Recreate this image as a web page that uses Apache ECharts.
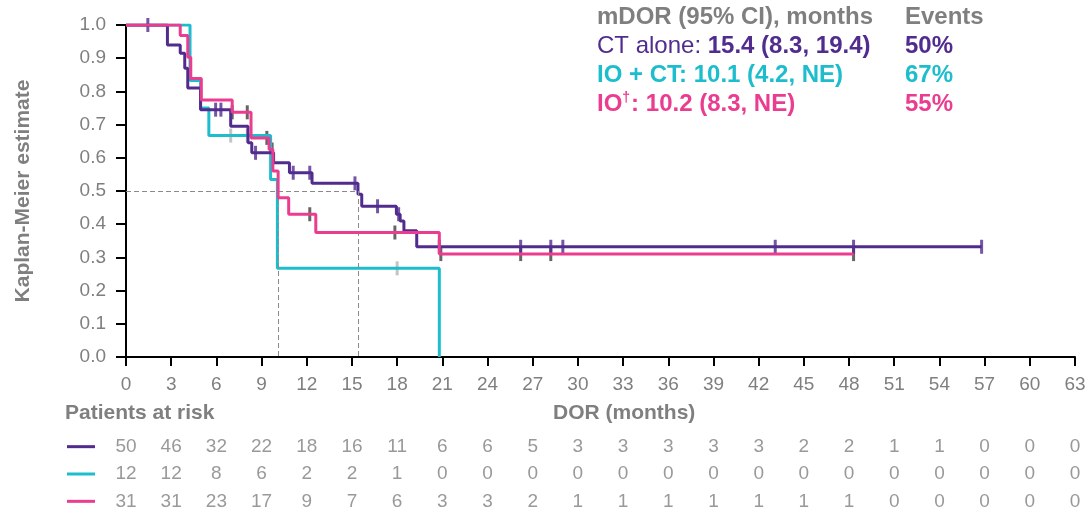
<!DOCTYPE html>
<html><head><meta charset="utf-8">
<script src="https://cdn.jsdelivr.net/npm/echarts@6/dist/echarts.min.js"></script>
<style>html,body{margin:0;padding:0;background:#fff}#c{width:1091px;height:515px}</style>
</head><body><div id="c"></div>
<script>
// ---- Kaplan-Meier step data (time in months, survival estimate) ----
const ctTimes = [0, 2.75, 3.6, 3.9, 4.1, 4.95, 6.95, 8.1, 8.35, 9.8, 10.85, 12.35, 15.4, 15.65, 17.95, 18.2, 18.45, 19.3, 56.8];
const ctSurv  = [1.0, 0.94, 0.915, 0.87, 0.81, 0.745, 0.695, 0.645, 0.615, 0.585, 0.555, 0.523, 0.49, 0.454, 0.43, 0.41, 0.38, 0.332, 0.332];
const ioctTimes = [0, 4.25, 4.95, 5.5, 9.6, 10.05, 20.8];
const ioctSurv  = [1.0, 0.833, 0.75, 0.667, 0.535, 0.267, 0.0];
const ioTimes = [0, 3.6, 4.1, 4.3, 5.0, 7.05, 8.3, 9.5, 9.75, 10.1, 10.8, 12.6, 20.8, 48.3];
const ioSurv  = [1.0, 0.968, 0.903, 0.839, 0.774, 0.737, 0.66, 0.625, 0.56, 0.48, 0.43, 0.375, 0.31, 0.31];

// ---- censoring times ----
const ctCensor   = [1.45, 5.95, 6.3, 8.6, 11.1, 12.2, 15.2, 16.7, 18.1, 20.8, 26.2, 28.2, 29.0, 43.1, 48.3, 56.8];
const ioctCensor = [6.95, 8.05, 18.0];
const ioCensor   = [7.05, 8.05, 9.35, 9.7, 12.2, 17.85, 20.9, 26.2, 28.2, 48.3];

// ---- medians ----
const medianLevel = 0.5;
const medians = [10.1, 15.4];

// ---- patients at risk ----
const riskTimes = [0, 3, 6, 9, 12, 15, 18, 21, 24, 27, 30, 33, 36, 39, 42, 45, 48, 51, 54, 57, 60, 63];
const riskCT   = [50, 46, 32, 22, 18, 16, 11, 6, 6, 5, 3, 3, 3, 3, 3, 2, 2, 1, 1, 0, 0, 0];
const riskIOCT = [12, 12, 8, 6, 2, 2, 1, 0, 0, 0, 0, 0, 0, 0, 0, 0, 0, 0, 0, 0, 0, 0];
const riskIO   = [31, 31, 23, 17, 9, 7, 6, 3, 3, 2, 1, 1, 1, 1, 1, 1, 1, 0, 0, 0, 0, 0];
const groupNames = ['CT alone', 'IO + CT', 'IO'];

// ---- legend texts ----
const legendHeader = ['mDOR (95% CI), months', 'Events'];
const legendPrefix = ['CT alone: ', 'IO + CT: ', 'IO'];
const legendMedian = ['15.4 (8.3, 19.4)', '10.1 (4.2, NE)', '10.2 (8.3, NE)'];
const legendEvents = ['50%', '67%', '55%'];

const PURPLE = '#512C8E', CYAN = '#1DBDCE', PINK = '#EB3D8F';
const GRAY = '#7F7F7F', DARK = '#404040', LIGHT = '#B5B5B5';
const FONT = '"Liberation Sans", Arial, sans-serif';
const LF = 24;

const zip = (t, s) => t.map((x, i) => [x, s[i]]);
const survAt = (t, s, x) => { let v = s[0]; for (let i = 0; i < t.length; i++) { if (t[i] <= x) v = s[i]; } return v; };
const censorPts = (c, t, s) => c.map(x => [x, survAt(t, s, x)]);

const chart = echarts.init(document.getElementById('c'), null, { renderer: 'canvas' });

const riskData = [];
[riskCT, riskIOCT, riskIO].forEach((arr, r) => arr.forEach((v, i) => riskData.push([riskTimes[i], groupNames[r], v])));

const lineBase = { type: 'line', step: 'end', showSymbol: false, symbol: 'none', xAxisIndex: 0, yAxisIndex: 0, animation: false };
const tickSym = (color, z) => ({ type: 'scatter', symbol: 'rect', symbolSize: [3, 14], itemStyle: { color }, z, animation: false, silent: true });

const option = {
  animation: false,
  grid: [
    { left: 126, right: 16, top: 25, height: 332 },
    { left: 126, right: 16, top: 433, height: 85 }
  ],
  xAxis: [
    { type: 'value', gridIndex: 0, min: 0, max: 63, interval: 3,
      axisLine: { lineStyle: { color: '#000', width: 2 } },
      axisTick: { length: 9, lineStyle: { color: '#000', width: 2 } },
      axisLabel: { color: GRAY, fontSize: 19, fontFamily: FONT, margin: 18 },
      splitLine: { show: false } },
    { type: 'value', gridIndex: 1, min: 0, max: 63, show: false }
  ],
  yAxis: [
    { type: 'value', gridIndex: 0, min: 0, max: 1, interval: 0.1,
      name: 'Kaplan-Meier estimate', nameLocation: 'middle', nameGap: 92, nameRotate: 90,
      nameTextStyle: { color: GRAY, fontSize: 21, fontWeight: 'bold', fontFamily: FONT },
      axisLine: { show: true, lineStyle: { color: '#000', width: 2 } },
      axisTick: { show: true, length: 10, lineStyle: { color: '#000', width: 2 } },
      axisLabel: { color: GRAY, fontSize: 19, fontFamily: FONT, margin: 20, formatter: v => v.toFixed(1) },
      splitLine: { show: false } },
    { type: 'category', gridIndex: 1, inverse: true, data: groupNames,
      axisLine: { show: false }, axisTick: { show: false },
      axisLabel: { margin: 31, formatter: (v, i) => '{c' + i + '|}',
        rich: { c0: { width: 28, height: 3, backgroundColor: PURPLE },
                c1: { width: 28, height: 3, backgroundColor: CYAN },
                c2: { width: 28, height: 3, backgroundColor: PINK } } } }
  ],
  series: [
    { type: 'line', xAxisIndex: 0, yAxisIndex: 0, data: [], symbol: 'none', z: 1,
      markLine: { silent: true, symbol: 'none', label: { show: false },
        lineStyle: { color: '#8A8A8A', type: [5, 3], width: 1 },
        data: [
          [{ coord: [0, medianLevel] }, { coord: [medians[1], medianLevel] }],
          [{ coord: [medians[0], medianLevel] }, { coord: [medians[0], 0] }],
          [{ coord: [medians[1], medianLevel] }, { coord: [medians[1], 0] }]
        ] } },
    Object.assign(tickSym(LIGHT, 2), { data: censorPts(ioctCensor, ioctTimes, ioctSurv) }),
    Object.assign(tickSym(DARK, 2), { data: censorPts(ioCensor, ioTimes, ioSurv) }),
    Object.assign({}, lineBase, { name: 'IO + CT', data: zip(ioctTimes, ioctSurv), z: 3, lineStyle: { color: CYAN, width: 3 } }),
    Object.assign({}, lineBase, { name: 'CT alone', data: zip(ctTimes, ctSurv), z: 4, lineStyle: { color: PURPLE, width: 3 } }),
    Object.assign(tickSym(PURPLE, 5), { data: censorPts(ctCensor, ctTimes, ctSurv) }),
    Object.assign({}, lineBase, { name: 'IO', data: zip(ioTimes, ioSurv), z: 6, lineStyle: { color: PINK, width: 3 } }),
    { type: 'scatter', xAxisIndex: 1, yAxisIndex: 1, data: riskData, symbol: 'rect', symbolSize: 1,
      itemStyle: { color: 'rgba(0,0,0,0)' }, animation: false, silent: true,
      label: { show: true, position: 'inside', color: GRAY, fontSize: 19, fontFamily: FONT, formatter: p => p.value[2] } }
  ],
  graphic: [
    { type: 'text', x: 65, y: 413, style: { text: 'Patients at risk', fill: GRAY, font: 'bold 21px ' + FONT, verticalAlign: 'middle' } },
    { type: 'text', x: 553, y: 413, style: { text: 'DOR (months)', fill: GRAY, font: 'bold 21px ' + FONT, verticalAlign: 'middle' } },
    { type: 'text', x: 597, y: 17, style: { text: legendHeader[0], fill: GRAY, font: 'bold ' + LF + 'px ' + FONT, verticalAlign: 'middle' } },
    { type: 'text', x: 905, y: 17, style: { text: legendHeader[1], fill: GRAY, font: 'bold ' + LF + 'px ' + FONT, verticalAlign: 'middle' } },
    { type: 'text', x: 597, y: 46, style: { text: '{n|' + legendPrefix[0] + '}{b|' + legendMedian[0] + '}', verticalAlign: 'middle',
        rich: { n: { fill: PURPLE, fontSize: LF, fontFamily: FONT }, b: { fill: PURPLE, fontSize: LF, fontWeight: 'bold', fontFamily: FONT } } } },
    { type: 'text', x: 597, y: 75, style: { text: legendPrefix[1] + legendMedian[1], fill: CYAN, font: 'bold ' + LF + 'px ' + FONT, verticalAlign: 'middle' } },
    { type: 'text', x: 597, y: 104, style: { text: '{b|' + legendPrefix[2] + '}{s|\u2020}{b|: ' + legendMedian[2] + '}', verticalAlign: 'middle',
        rich: { b: { fill: PINK, fontSize: LF, fontWeight: 'bold', fontFamily: FONT, lineHeight: 28 },
                s: { fill: PINK, fontSize: 14, fontWeight: 'bold', fontFamily: FONT, lineHeight: 28, padding: [0, 1, 12, 0] } } } },
    { type: 'text', x: 905, y: 46, style: { text: legendEvents[0], fill: PURPLE, font: 'bold ' + LF + 'px ' + FONT, verticalAlign: 'middle' } },
    { type: 'text', x: 905, y: 75, style: { text: legendEvents[1], fill: CYAN, font: 'bold ' + LF + 'px ' + FONT, verticalAlign: 'middle' } },
    { type: 'text', x: 905, y: 104, style: { text: legendEvents[2], fill: PINK, font: 'bold ' + LF + 'px ' + FONT, verticalAlign: 'middle' } }
  ]
};
chart.setOption(option);
</script>
</body></html>
